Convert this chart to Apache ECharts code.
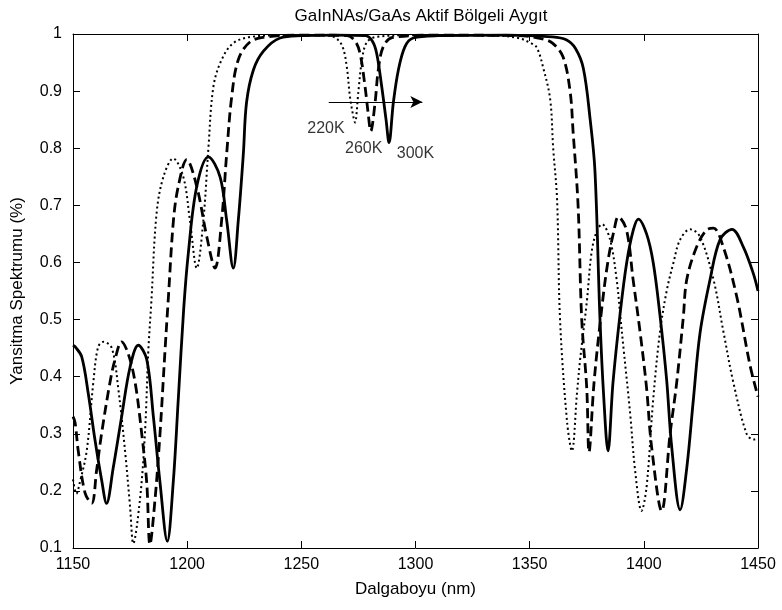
<!DOCTYPE html>
<html>
<head>
<meta charset="utf-8">
<script src="https://cdn.jsdelivr.net/npm/echarts@6/dist/echarts.min.js"></script>
<style>
html,body{margin:0;padding:0;background:#fff;}
#chart{width:782px;height:610px;}
</style>
</head>
<body>
<div id="chart"></div>
<script>
// ---- data (wavelength nm, reflectance) ----
var chartTitle = 'GaInNAs/GaAs Aktif Bölgeli Aygıt';
var xName = 'Dalgaboyu (nm)';
var yName = 'Yansitma Spektrumu (%)';
var xTicks = [1150, 1200, 1250, 1300, 1350, 1400, 1450];
var yTicks = [0.1, 0.2, 0.3, 0.4, 0.5, 0.6, 0.7, 0.8, 0.9, 1];

var curve220K = [
  [1150,0.22],[1151.5,0.195],[1153,0.215],[1156,0.27],[1158.9,0.39],[1161,0.452],[1163.3,0.461],
  [1167,0.45],[1169.8,0.38],[1172.8,0.27],[1175,0.172],[1176.4,0.108],[1179.3,0.184],[1181.5,0.30],
  [1183,0.446],[1184.3,0.53],[1186.6,0.686],[1189.6,0.75],[1193.9,0.782],[1198.3,0.75],[1201.2,0.674],
  [1204.2,0.59],[1207.1,0.674],[1209.3,0.80],[1211.5,0.908],[1215.1,0.955],[1220.2,0.984],[1228,0.995],
  [1245,0.998],[1262,0.997],[1266,0.99],[1268.3,0.975],[1270,0.94],[1271.3,0.89],[1272.8,0.855],
  [1273.5,0.845],[1275,0.9],[1276.4,0.95],[1278.6,0.985],[1283,0.995],[1300,0.998],[1335,0.997],
  [1345,0.993],[1350,0.985],[1353,0.977],[1356,0.94],[1359,0.885],[1360.3,0.80],[1362,0.71],
  [1363.3,0.5],[1366.4,0.32],[1368.5,0.27],[1370.7,0.37],[1372.1,0.43],[1375,0.53],[1377.2,0.62],
  [1379.6,0.657],[1381.7,0.667],[1385.2,0.64],[1388.1,0.57],[1389.6,0.51],[1391.1,0.45],[1394,0.336],
  [1396.2,0.235],[1399,0.165],[1401.2,0.207],[1404.1,0.36],[1407,0.476],[1410,0.55],[1413,0.60],
  [1415.9,0.64],[1420.3,0.658],[1424.6,0.645],[1430.5,0.57],[1434.8,0.48],[1439.2,0.39],[1445,0.30],
  [1448,0.29],[1450,0.292]
];

var curve260K = [
  [1150,0.33],[1150.9,0.32],[1152.3,0.27],[1155.3,0.196],[1158.2,0.178],[1160.3,0.235],[1162.5,0.30],
  [1166.2,0.39],[1168.4,0.43],[1171.3,0.461],[1174.2,0.44],[1177.2,0.39],[1180.1,0.30],[1182.3,0.214],
  [1183.7,0.106],[1185.9,0.184],[1188.1,0.30],[1190.3,0.446],[1191.7,0.534],[1194,0.674],[1196.1,0.733],
  [1199.8,0.78],[1204.2,0.733],[1208.6,0.645],[1212.2,0.59],[1215.1,0.674],[1217.3,0.79],[1219.5,0.89],
  [1222.4,0.955],[1227.5,0.986],[1235,0.995],[1250,0.998],[1270,0.997],[1273.5,0.988],[1275.7,0.966],
  [1277.9,0.908],[1279.3,0.86],[1280.4,0.83],[1282.3,0.88],[1283.7,0.937],[1285.9,0.978],[1290,0.994],
  [1310,0.998],[1345,0.997],[1355,0.992],[1360,0.984],[1364.6,0.96],[1367.7,0.90],[1369,0.83],
  [1371.2,0.70],[1372.8,0.5],[1375,0.38],[1376,0.268],[1378.2,0.39],[1381.3,0.51],[1384.2,0.60],
  [1387,0.657],[1388.8,0.68],[1392.4,0.657],[1395.3,0.57],[1398.3,0.48],[1401.2,0.38],[1403.4,0.277],
  [1407.8,0.165],[1411.5,0.30],[1414.4,0.39],[1417.3,0.505],[1418.8,0.57],[1423.1,0.627],[1427.5,0.657],
  [1430.5,0.66],[1434.8,0.627],[1440.7,0.54],[1446.5,0.42],[1450,0.365]
];

var curve300K = [
  [1150,0.455],[1151,0.452],[1153.8,0.435],[1156.7,0.37],[1159.6,0.29],[1162.5,0.22],[1164.7,0.178],
  [1167.6,0.24],[1171.3,0.33],[1175,0.417],[1178.6,0.455],[1182.3,0.43],[1185.2,0.33],[1188.1,0.215],
  [1191.3,0.112],[1193.9,0.215],[1196.1,0.36],[1198.5,0.52],[1200.5,0.616],[1204.2,0.733],[1209.3,0.785],
  [1214.4,0.75],[1217.3,0.674],[1220.2,0.59],[1222.4,0.674],[1224.6,0.79],[1226,0.88],[1229,0.937],
  [1233.4,0.97],[1240.7,0.993],[1250,0.997],[1265,0.998],[1278,0.997],[1281,0.988],[1283,0.966],
  [1285.2,0.908],[1287.1,0.85],[1288.4,0.81],[1290.3,0.88],[1292.5,0.937],[1295.4,0.978],[1299,0.993],
  [1310,0.997],[1340,0.998],[1360,0.995],[1366,0.99],[1370,0.975],[1373.5,0.94],[1376.5,0.85],
  [1378.6,0.76],[1380.8,0.5],[1382.5,0.36],[1384.3,0.27],[1386.5,0.39],[1389.6,0.51],[1392.5,0.60],
  [1395.4,0.657],[1397.6,0.676],[1401.2,0.65],[1404.1,0.60],[1407,0.51],[1410,0.394],[1412.2,0.277],
  [1415.9,0.167],[1418.8,0.24],[1421.7,0.36],[1424.6,0.476],[1429,0.57],[1433.4,0.64],[1438.6,0.658],
  [1443.6,0.627],[1448,0.58],[1450,0.55]
];

var arrowFrom = [1262, 0.881];
var arrowTo = [1303, 0.881];
var labelNames = ['220K', '260K', '300K'];
var labelX = [1260.8, 1277.3, 1300.0];
var labelY = [0.835, 0.800, 0.790];

// ---- chart ----
var FONT = '"Liberation Sans", Arial, sans-serif';
var chart = echarts.init(document.getElementById('chart'), null, {renderer: 'canvas'});

function baseX(pos, showLabels) {
  return {
    type: 'value', position: pos, min: xTicks[0], max: xTicks[xTicks.length - 1], interval: 50,
    axisLine: {show: true, onZero: false, lineStyle: {color: '#000', width: 1}},
    axisTick: {show: true, inside: true, length: 7, lineStyle: {color: '#000'}},
    axisLabel: {show: showLabels, color: '#000', fontSize: 16, fontFamily: FONT, margin: 9,
      formatter: function (v) { return String(Math.round(v)); }},
    splitLine: {show: false}
  };
}
function baseY(pos, showLabels) {
  return {
    type: 'value', position: pos, min: yTicks[0], max: yTicks[yTicks.length - 1], interval: 0.1,
    axisLine: {show: true, onZero: false, lineStyle: {color: '#000', width: 1}},
    axisTick: {show: true, inside: true, length: 7, lineStyle: {color: '#000'}},
    axisLabel: {show: showLabels, color: '#000', fontSize: 16, fontFamily: FONT, margin: 11,
      formatter: function (v) { return String(Math.round(v * 10) / 10); }},
    splitLine: {show: false}
  };
}

var xBottom = baseX('bottom', true);
xBottom.name = xName;
xBottom.nameLocation = 'middle';
xBottom.nameGap = 33;
xBottom.nameTextStyle = {color: '#000', fontSize: 17, fontFamily: FONT};
var yLeft = baseY('left', true);
yLeft.name = yName;
yLeft.nameLocation = 'middle';
yLeft.nameGap = 47;
yLeft.nameTextStyle = {color: '#000', fontSize: 17, fontFamily: FONT};

var labelData = labelNames.map(function (n, i) { return {name: n, value: [labelX[i], labelY[i]]}; });

var option = {
  animation: false,
  backgroundColor: '#fff',
  title: {
    text: chartTitle, left: 416, top: 3, textAlign: 'center',
    textStyle: {color: '#000', fontSize: 17, fontWeight: 'normal', fontFamily: FONT}
  },
  grid: {left: 73, right: 24, top: 34, bottom: 62, containLabel: false},
  xAxis: [xBottom, baseX('top', false)],
  yAxis: [yLeft, baseY('right', false)],
  series: [
    {
      name: '220K', type: 'line', data: curve220K, showSymbol: false, symbol: 'none',
      smooth: 0.35,
      lineStyle: {color: '#000', width: 2, type: [2, 3]}
    },
    {
      name: '260K', type: 'line', data: curve260K, showSymbol: false, symbol: 'none',
      smooth: 0.35,
      lineStyle: {color: '#000', width: 2.8, type: [10, 5]}
    },
    {
      name: '300K', type: 'line', data: curve300K, showSymbol: false, symbol: 'none',
      smooth: 0.35,
      lineStyle: {color: '#000', width: 2.8, type: 'solid'},
      markLine: {
        silent: true, symbol: ['none', 'arrow'], symbolSize: [9, 12], precision: 3,
        lineStyle: {color: '#000', width: 1, type: 'solid'},
        label: {show: false},
        data: [[{coord: arrowFrom}, {coord: arrowTo}]]
      }
    },
    {
      name: 'labels', type: 'scatter', data: labelData, symbol: 'rect', symbolSize: 1,
      itemStyle: {color: 'rgba(0,0,0,0)'}, silent: true,
      label: {show: true, position: 'inside', formatter: '{b}', color: '#000', fontSize: 16, fontFamily: FONT}
    }
  ]
};
chart.setOption(option);
</script>
</body>
</html>
